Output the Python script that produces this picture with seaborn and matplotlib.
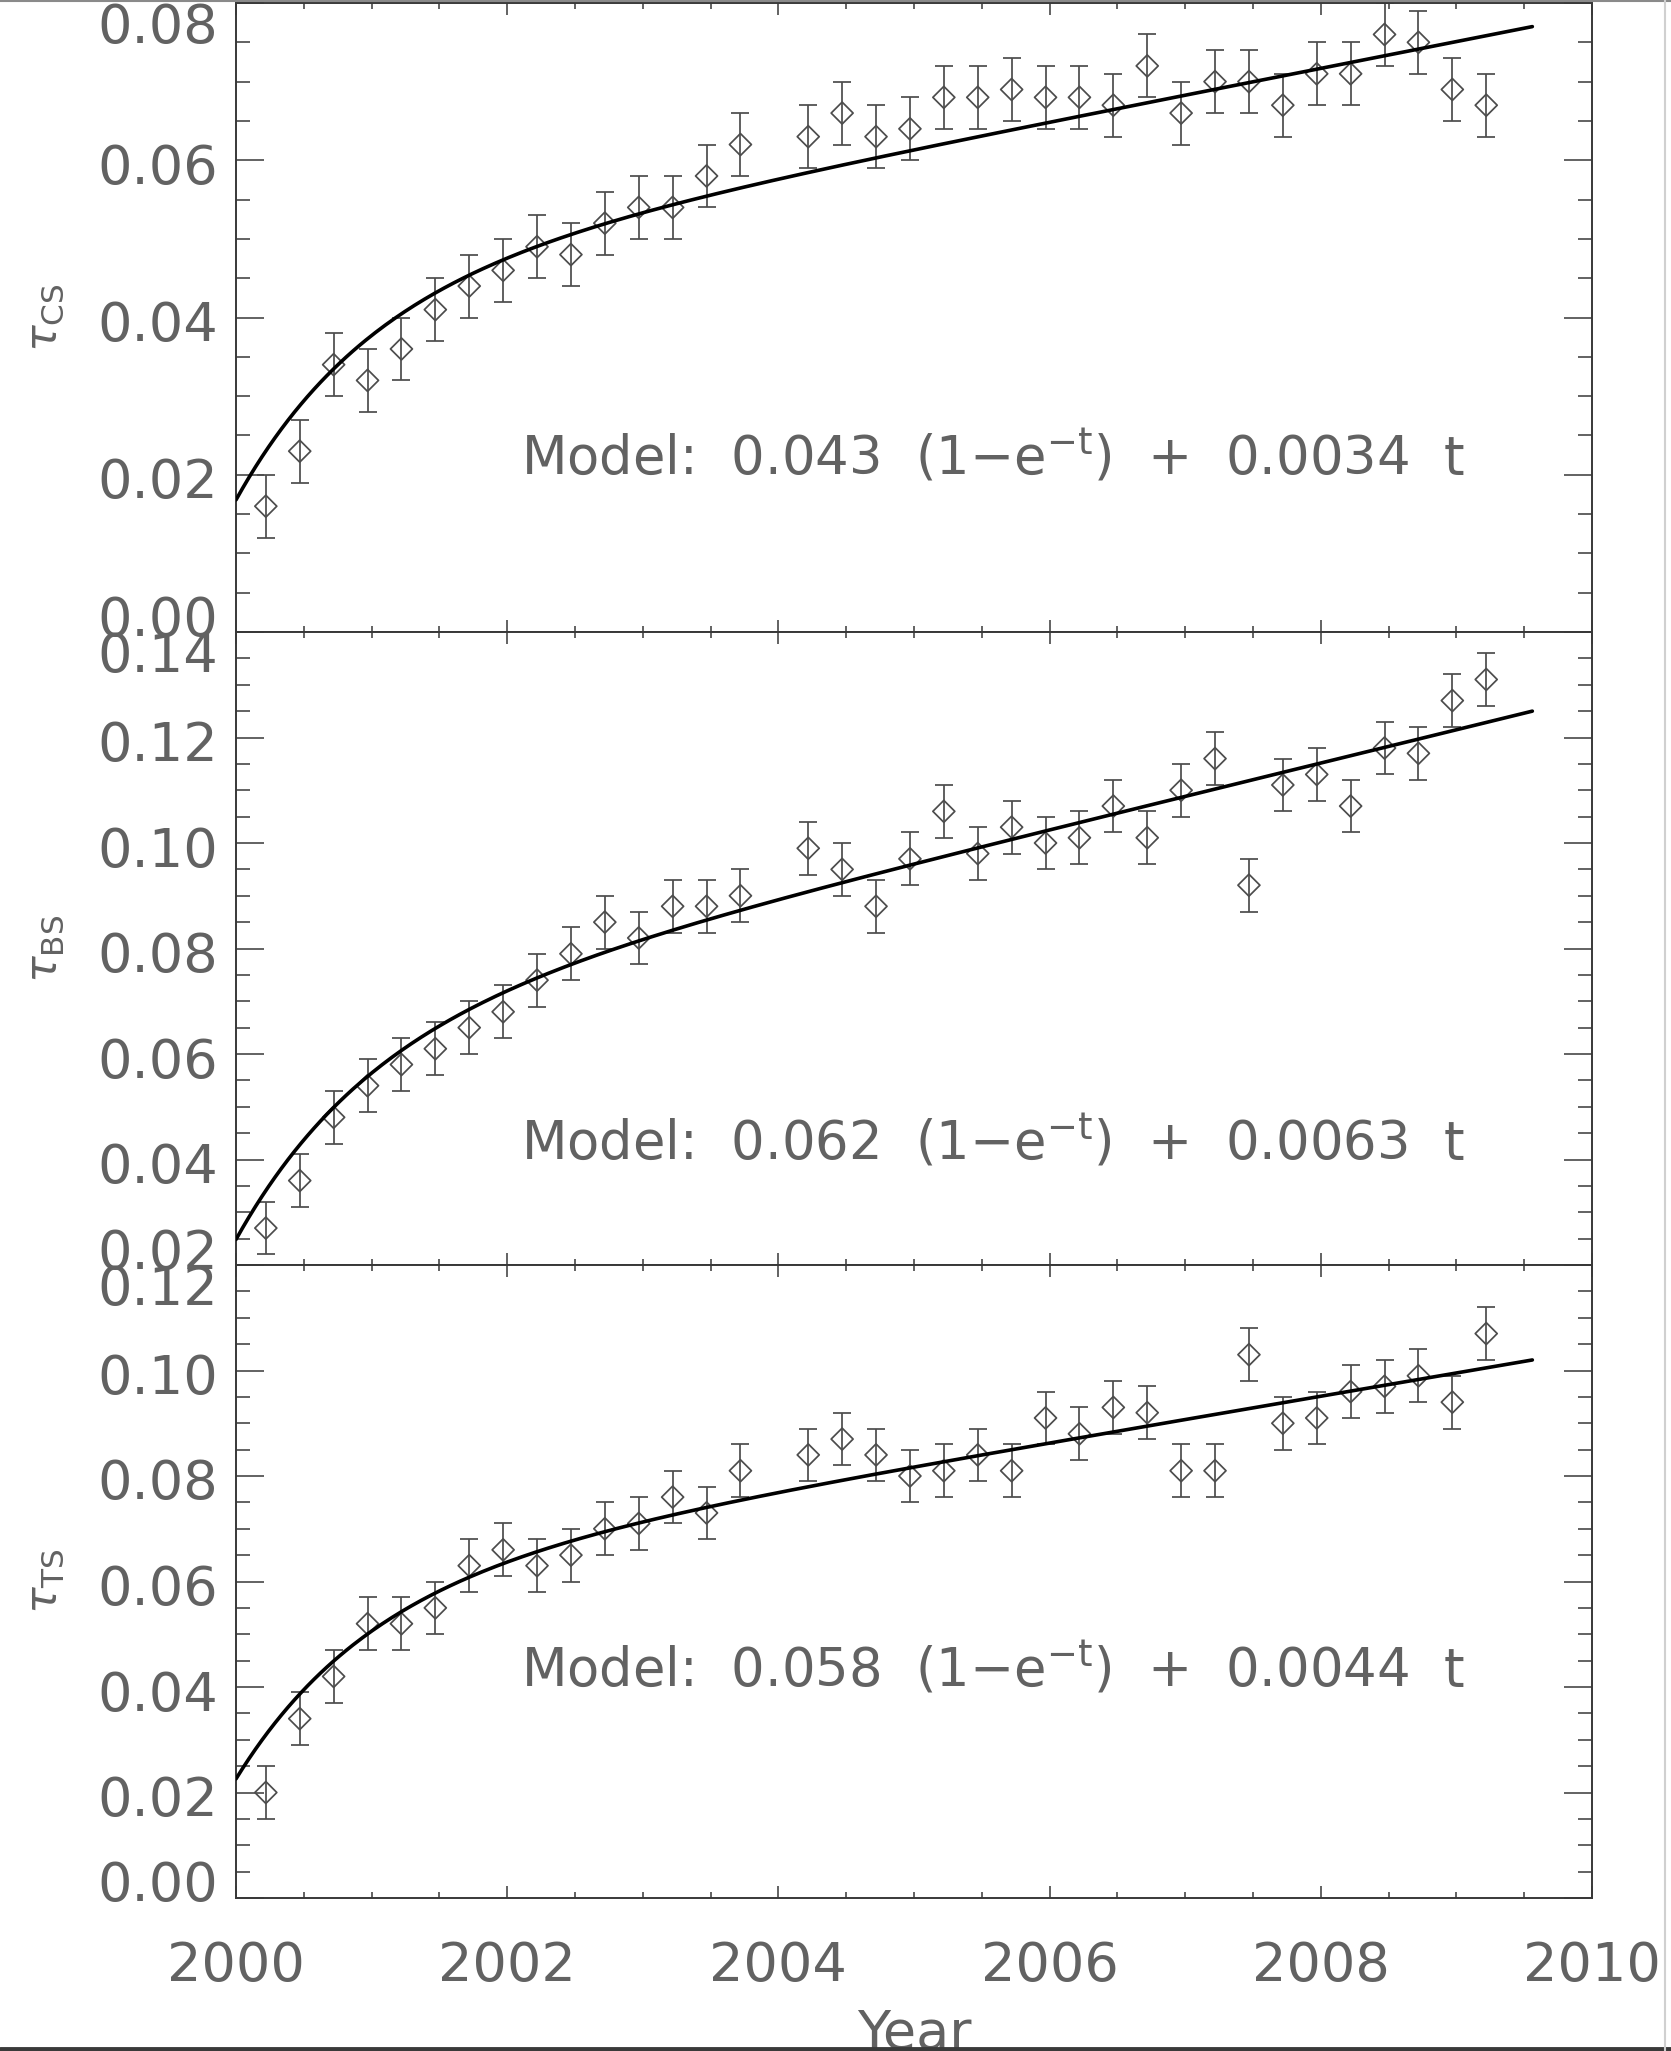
import numpy as np
import matplotlib
matplotlib.use("Agg")
import matplotlib.pyplot as plt
from matplotlib.ticker import MultipleLocator, FormatStrFormatter
from matplotlib.lines import Line2D
from matplotlib.transforms import ScaledTranslation
import seaborn as sns

# ---------------- data ----------------
years = [2000.22, 2000.47, 2000.72, 2000.97, 2001.22, 2001.47, 2001.72, 2001.97,
         2002.22, 2002.47, 2002.72, 2002.97, 2003.22, 2003.47, 2003.72,
         2004.22, 2004.47, 2004.72, 2004.97, 2005.22, 2005.47, 2005.72, 2005.97,
         2006.22, 2006.47, 2006.72, 2006.97, 2007.22, 2007.47, 2007.72, 2007.97,
         2008.22, 2008.47, 2008.72, 2008.97, 2009.22]

tau_cs = [0.016, 0.023, 0.034, 0.032, 0.036, 0.041, 0.044, 0.046, 0.049, 0.048,
          0.052, 0.054, 0.054, 0.058, 0.062, 0.063, 0.066, 0.063, 0.064, 0.068,
          0.068, 0.069, 0.068, 0.068, 0.067, 0.072, 0.066, 0.070, 0.070, 0.067,
          0.071, 0.071, 0.076, 0.075, 0.069, 0.067]

tau_bs = [0.027, 0.036, 0.048, 0.054, 0.058, 0.061, 0.065, 0.068, 0.074, 0.079,
          0.085, 0.082, 0.088, 0.088, 0.090, 0.099, 0.095, 0.088, 0.097, 0.106,
          0.098, 0.103, 0.100, 0.101, 0.107, 0.101, 0.110, 0.116, 0.092, 0.111,
          0.113, 0.107, 0.118, 0.117, 0.127, 0.131]

tau_ts = [0.020, 0.034, 0.042, 0.052, 0.052, 0.055, 0.063, 0.066, 0.063, 0.065,
          0.070, 0.071, 0.076, 0.073, 0.081, 0.084, 0.087, 0.084, 0.080, 0.081,
          0.084, 0.081, 0.091, 0.088, 0.093, 0.092, 0.081, 0.081, 0.103, 0.090,
          0.091, 0.096, 0.097, 0.099, 0.094, 0.107]

tau_err = [0.004, 0.005, 0.005]           # error bar half-widths per panel

# model: a (1 - e^-t) + b t   (t in years, curve drawn from 2000.0 to 2009.56)
model_a = [0.043, 0.062, 0.058]
model_b = [0.0034, 0.0063, 0.0044]
model_t_at_2000 = 0.44
model_x_range = [2000.0, 2009.56]

model_labels = ["Model:  0.043  (1\u2212e$^{\\mathrm{-t}}$)  +  0.0034  t",
                "Model:  0.062  (1\u2212e$^{\\mathrm{-t}}$)  +  0.0063  t",
                "Model:  0.058  (1\u2212e$^{\\mathrm{-t}}$)  +  0.0044  t"]
model_label_pos = [(2002.1, 0.020), (2002.1, 0.040), (2002.1, 0.040)]

ylabels = [r"$\tau_{\rm CS}$", r"$\tau_{\rm BS}$", r"$\tau_{\rm TS}$"]
ylims = [(0.0, 0.08), (0.02, 0.14), (0.0, 0.12)]
xlim = (2000, 2010)
xlabel = "Year"

# ---------------- style ----------------
sns.set_theme(style="ticks")
plt.rcParams["font.family"] = ["DejaVu Sans"]
plt.rcParams["mathtext.fontset"] = "dejavusans"
plt.rcParams["xtick.direction"] = "in"
plt.rcParams["ytick.direction"] = "in"
plt.rcParams["xtick.top"] = True
plt.rcParams["ytick.right"] = True

text_color = "#626262"
line_color = "#383838"
mark_color = "#4c4c4c"
FS = 39

W, H = 1671, 2051
fig = plt.figure(figsize=(W / 100, H / 100), dpi=100)
fig.patch.set_facecolor("white")

left_px, right_px = 236, 1592
panel_px = [(3, 632), (632, 1265), (1265, 1898)]
series = [tau_cs, tau_bs, tau_ts]

axes = []
for i, (top, bot) in enumerate(panel_px):
    ax = fig.add_axes([left_px / W, 1 - bot / H, (right_px - left_px) / W, (bot - top) / H])
    ax.set_facecolor("white")
    vals = series[i]

    ax.errorbar(years, vals, yerr=tau_err[i], fmt="none", ecolor=mark_color,
                elinewidth=1.25, capsize=6.8, capthick=1.25, zorder=2)
    sns.scatterplot(x=years, y=vals, ax=ax, marker="D", s=125,
                    facecolor="none", edgecolor=mark_color, linewidth=1.25,
                    zorder=3, legend=False)

    xc = np.linspace(model_x_range[0], model_x_range[1], 400)
    tc = xc - 2000.0 + model_t_at_2000
    yc = model_a[i] * (1 - np.exp(-tc)) + model_b[i] * tc
    sns.lineplot(x=xc, y=yc, ax=ax, color="black", linewidth=2.6,
                 estimator=None, sort=False, zorder=4, legend=False)

    ax.text(model_label_pos[i][0], model_label_pos[i][1], model_labels[i],
            fontsize=38, color=text_color, ha="left", va="baseline")

    ax.set_xlim(*xlim)
    ax.set_ylim(*ylims[i])
    ax.xaxis.set_major_locator(MultipleLocator(2))
    ax.xaxis.set_minor_locator(MultipleLocator(0.5))
    ax.yaxis.set_major_locator(MultipleLocator(0.02))
    ax.yaxis.set_minor_locator(MultipleLocator(0.005))
    ax.yaxis.set_major_formatter(FormatStrFormatter("%.2f"))
    ax.xaxis.set_major_formatter(FormatStrFormatter("%d"))

    ax.tick_params(axis="y", which="major", length=20.5, width=1.1, pad=13,
                   labelsize=FS, labelcolor=text_color, color=line_color)
    ax.tick_params(axis="y", which="minor", length=10, width=1.1, color=line_color)
    ax.tick_params(axis="x", which="major", length=8.5, width=1.1, pad=30,
                   labelsize=FS, labelcolor=text_color, color=line_color)
    ax.tick_params(axis="x", which="minor", length=4.2, width=1.1, color=line_color)
    if i < 2:
        ax.tick_params(axis="x", labelbottom=False)

    for sp in ax.spines.values():
        sp.set_visible(True)
        sp.set_linewidth(1.4)
        sp.set_color(line_color)

    ax.set_ylabel(ylabels[i], fontsize=32, color=text_color, va="center")
    ax.yaxis.set_label_coords(-0.141, 0.5)
    ax.set_xlabel("")
    axes.append(ax)

axes[-1].set_xlabel(xlabel, fontsize=FS, color=text_color, va="baseline")
axes[-1].xaxis.set_label_coords(0.5, -0.238)

# IDL-style placement of y tick labels: end labels pulled inside the panel
fig.canvas.draw()
for i, ax in enumerate(axes):
    lo, hi = ylims[i]
    locs = ax.yaxis.get_majorticklocs()
    for tick, loc in zip(ax.yaxis.get_major_ticks(), locs):
        if abs(loc - lo) < 1e-9:
            dy = 17.0          # px upward
        elif abs(loc - hi) < 1e-9:
            dy = -19.0         # px downward
        else:
            dy = -3.0
        tick.label1.set_transform(tick.label1.get_transform() +
                                  ScaledTranslation(0, dy / 100.0, fig.dpi_scale_trans))

# screenshot frame lines
fig.add_artist(Line2D([0, 1], [1 - 1 / H, 1 - 1 / H], transform=fig.transFigure,
                      color="#8a8a8a", linewidth=1.5))
fig.add_artist(Line2D([0, 1], [2.5 / H, 2.5 / H], transform=fig.transFigure,
                      color="#3a3a3a", linewidth=3.5))
fig.add_artist(Line2D([1665 / W, 1665 / W], [0, 1], transform=fig.transFigure,
                      color="#d0d0d0", linewidth=1.5))

fig.savefig("out.png", dpi=100, facecolor="white")
